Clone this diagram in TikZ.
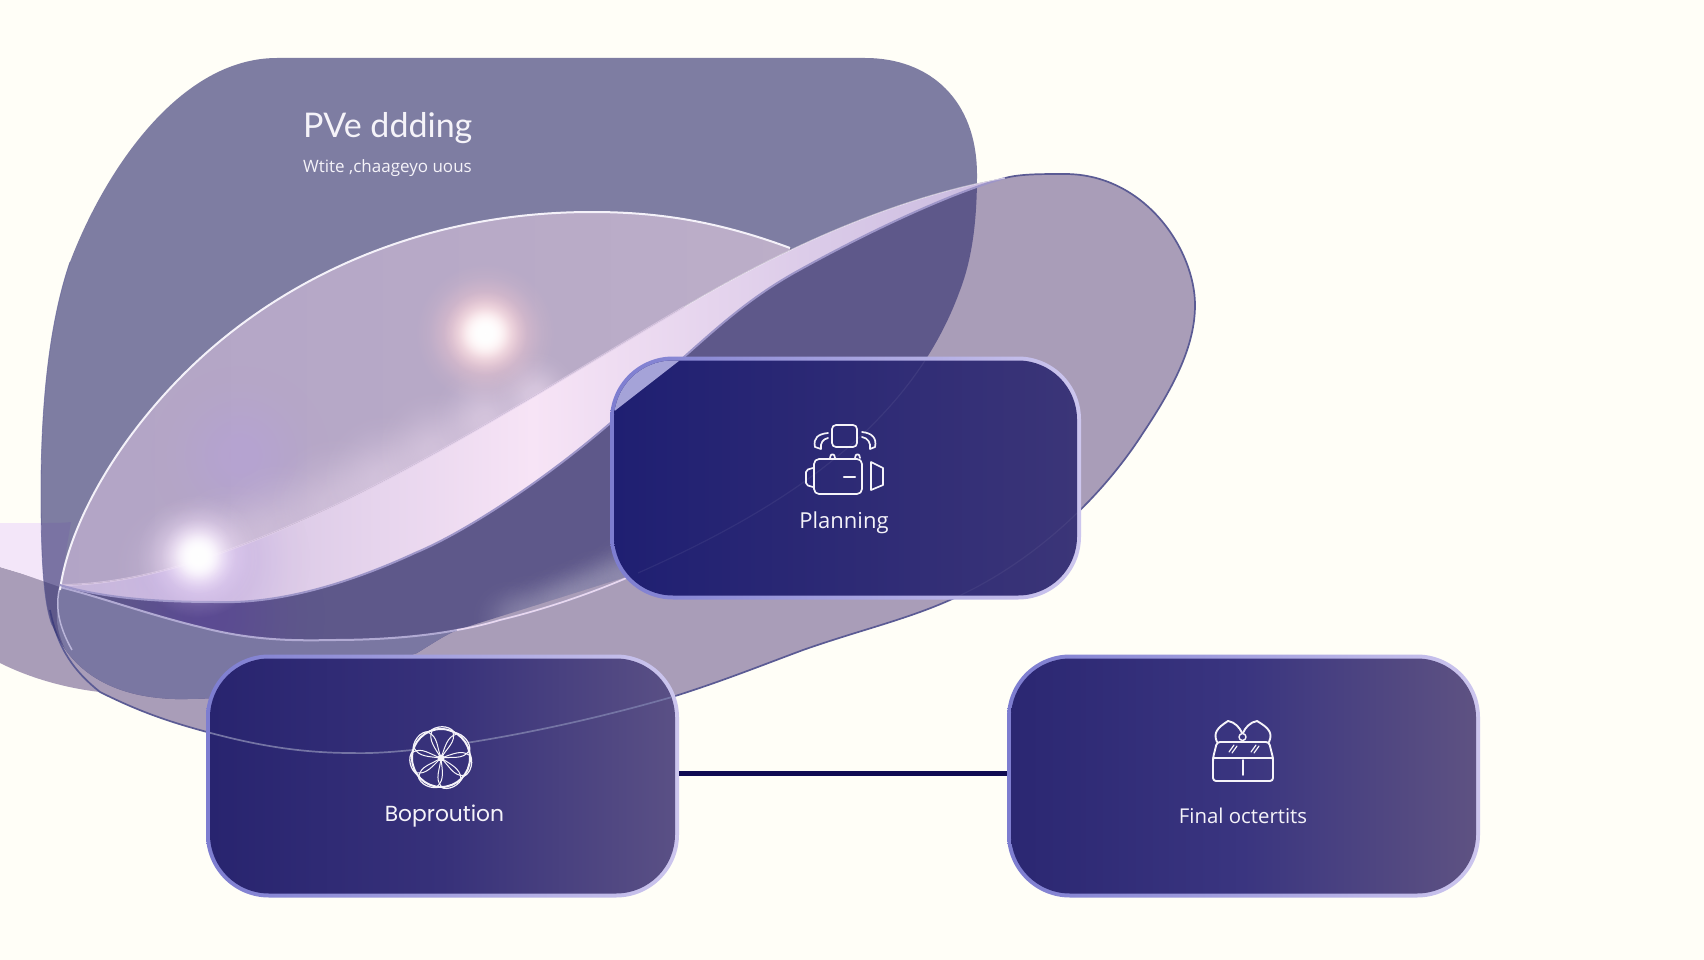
\documentclass[tikz,border=0pt]{standalone}
\usepackage{fontspec}
\setmainfont{Open Sans}
\newfontfamily\popfont{Poppins}
\newfontfamily\latofont{Lato}
\usetikzlibrary{fadings}
\pgfdeclareradialshading{softs}{\pgfpointorigin}{color(0bp)=(white); color(5bp)=(black!10); color(10bp)=(black!38); color(15bp)=(black!68); color(20bp)=(black!90); color(25bp)=(black); color(50bp)=(black)}
\pgfdeclarefading{softglow}{\pgfuseshading{softs}}
\definecolor{bgc}{HTML}{FFFEF7}
\definecolor{greyleaf}{HTML}{A99DB8}
\definecolor{blobc}{RGB}{48,46,111}
\definecolor{edgec}{HTML}{5B5B94}
\definecolor{paleband}{HTML}{F3E6F9}
\definecolor{bandg}{HTML}{7A77A2}
\definecolor{lensl}{HTML}{B2A4C6}
\definecolor{lensr}{HTML}{BCAEC8}
\definecolor{pinkm}{HTML}{F7E4F6}
\definecolor{lilacl}{HTML}{C4B4DA}
\definecolor{lilacr}{HTML}{C8BADF}
\definecolor{lowedge}{HTML}{9D95C8}
\definecolor{textc}{HTML}{F5F3F9}
\definecolor{conn}{HTML}{100B52}
\definecolor{purpledk}{HTML}{5A4596}
\definecolor{lilacglow}{HTML}{B79EE0}
\definecolor{pinkglow}{HTML}{FFCFD3}
\definecolor{violetglow}{HTML}{F3E2FC}
\definecolor{peri}{HTML}{A5A3D8}
\definecolor{bordl}{HTML}{7D7DD0}
\definecolor{bordr}{HTML}{CDC6EE}
\definecolor{plancl}{HTML}{1F1F72}
\definecolor{plancr}{HTML}{3B3578}
\definecolor{boxal}{HTML}{28246F}
\definecolor{boxam}{HTML}{37317A}
\definecolor{boxar}{HTML}{5A5085}
\definecolor{boxcl}{HTML}{2B2772}
\definecolor{boxcm}{HTML}{3A3580}
\definecolor{boxcr}{HTML}{5E5282}
\tikzset{
  cardout/.style={rounded corners=63pt,minimum width=#1,minimum height=243pt,inner sep=0pt},
  cardin/.style={rounded corners=59pt,minimum width=#1,minimum height=235pt,inner sep=0pt},
  icon/.style={draw=textc,line width=1.7pt,line join=round,line cap=round},
  lbl/.style={text=textc,inner sep=0pt},
  glow/.style={path fading=softglow},
}
\def\leafb{.. controls (140,712) and (170,722) .. (207,732) .. controls (255,745) and (300,753) .. (352,753) .. controls (410,755) and (540,735) .. (672,697) .. controls (720,682) and (760,666) .. (803,650) .. controls (860,630) and (905,620) .. (950,600) .. controls (1030,565) and (1100,500) .. (1143,433) .. controls (1175,385) and (1195,345) .. (1195,305) .. controls (1195,250) and (1145,174) .. (1065,174) .. controls (1040,174) and (1020,174) .. (1005,178)}
\def\dlowera{.. controls (960,190) and (880,225) .. (794,273)}
\def\dlowerb{.. controls (750,298) and (720,325) .. (684,357) .. controls (650,388) and (610,425) .. (574,453) .. controls (540,480) and (470,530) .. (415,553) .. controls (350,583) and (280,604) .. (218,602) .. controls (170,602) and (110,600) .. (60,585)}
\def\dupper{.. controls (150,585) and (250,545) .. (336,505) .. controls (440,455) and (560,380) .. (684,307) .. controls (760,262) and (880,200) .. (1005,178)}
\def\lensup{(60,590) .. controls (68,530) and (110,450) .. (178,380) .. controls (260,295) and (400,212) .. (592,212) .. controls (660,212) and (720,222) .. (790,248)}
\def\fleft{(60,587) .. controls (100,597) and (150,615) .. (200,627) .. controls (250,640) and (290,641) .. (333,640) .. controls (375,640) and (420,637) .. (457,630)}
\def\fright{.. controls (475,627) and (490,623) .. (500,620) .. controls (550,608) and (600,590) .. (638,573)}
\def\blobpath{(277,58) .. controls (180,58) and (105,170) .. (70,262) .. controls (50,320) and (41,400) .. (41,490) .. controls (41,540) and (42,600) .. (52,625) .. controls (70,670) and (110,697) .. (175,699) .. controls (260,700) and (340,680) .. (417,653) .. controls (430,645) and (445,635) .. (457,630) -- (638,573) .. controls (780,510) and (909,428) .. (959,293) .. controls (970,265) and (977,230) .. (977,175) .. controls (977,100) and (930,58) .. (865,58) -- cycle}
\begin{document}
\begin{tikzpicture}[x=1pt,y=-1pt]
\useasboundingbox (0,0) rectangle (1704,960);
\fill[bgc] (0,0) rectangle (1704,960);
% grey leaf
\fill[greyleaf] (0,567) -- (0,663) .. controls (30,678) and (65,688) .. (100,692) \leafb \dlowera \dlowerb -- (20,573) -- cycle;
\draw[edgec,line width=1.7pt] (50,610) .. controls (58,650) and (75,672) .. (100,692) \leafb;
% pale band on the left
\fill[paleband] (0,523) -- (42,523) .. controls (55,523) and (62,523) .. (71,522) -- (60,587) -- (20,573) -- (0,567) -- cycle;
% blob
\fill[blobc,fill opacity=.62] \blobpath;
\draw[edgec,line width=.8pt,opacity=.6] (70,262) .. controls (50,320) and (41,400) .. (41,490) .. controls (41,540) and (42,600) .. (52,625);
\begin{scope}
\clip \blobpath;
\fill[purpledk,glow,opacity=.7] (205,615) circle (120);
\foreach \p in {(640,570),(625,572),(610,582),(595,587),(580,595),(565,600),(550,606),(530,612),(510,618)}{
  \fill[white,glow,opacity=.14] \p circle (40);
}
\fill[bandg] \fleft -- (400,700) -- (100,700) -- (100,692) .. controls (75,672) and (55,640) .. (57,613) -- cycle;
\end{scope}
\draw[line width=1.5pt,color=lowedge!70!white] (60,587) .. controls (55,605) and (58,625) .. (72,650);
\draw[line width=2pt,color=lowedge!80!white] \fleft \fright;
\draw[line width=1.6pt,color=pinkm,opacity=.8] (457,630) \fright;
% lens
\begin{scope}
\clip \lensup -- (794,273) \dlowerb -- cycle;
\fill[left color=lensl,right color=lensr] (40,190) rectangle (800,620);
\fill[lilacglow,glow,opacity=.4] (240,455) circle (90);
\foreach \p/\r/\o in {(180,565)/70/.25,(230,550)/70/.3,(280,530)/70/.3,(336,505)/70/.35,(385,478)/65/.4,(435,450)/60/.4,(485,420)/55/.45,(534,395)/45/.5}{
  \fill[pinkm,glow,opacity=\o] \p circle (\r);
}
\end{scope}
% pale sweep band
\fill[left color=lilacl,right color=lilacr,middle color=pinkm] (60,585) \dupper \dlowera \dlowerb -- cycle;
\begin{scope}
\clip (60,585) \dupper \dlowera \dlowerb -- cycle;
\fill[lilacglow,glow,opacity=.5] (200,560) circle (110);
\end{scope}
\draw[line width=2pt,color=lilacl!45!pinkm,opacity=.7] (60,585) .. controls (150,585) and (250,545) .. (336,505) .. controls (440,455) and (560,380) .. (684,307);
\draw[line width=2pt,color=white!80!lilacr] \lensup;
\draw[line width=2pt,color=lowedge] (1005,178) \dlowera \dlowerb;
\draw[line width=1pt,color=white!80!lilacr,opacity=.6] (684,307) .. controls (760,262) and (880,200) .. (1005,178);
% glows
\fill[pinkglow,glow] (485,333) circle (70);
\fill[white,glow] (485,333) circle (42);
\fill[white,glow] (485,333) circle (28);
\fill[violetglow,glow] (198,556) circle (62);
\fill[white,glow] (198,556) circle (38);
\fill[white,glow] (198,556) circle (26);
% heading
\node[lbl,anchor=west,font=\latofont\fontsize{34}{40}\selectfont] (title) at (303,128) {PVe ddding};
\node[lbl,anchor=west,font=\fontsize{17}{20}\selectfont] (subtitle) at (303,168) {Wtite ,chaageyo uous};
% planning card
\node[cardout=471pt,left color=bordl,right color=bordr] (planout) at (845.5,478) {};
\node[cardin=463pt,left color=plancl,right color=plancr] (plan) at (845.5,478) {};
\begin{scope}
\clip[rounded corners=59pt] (614,360.5) rectangle (1077,595.5);
\fill[peri] (605,350) -- (605,418) -- (612,413) -- (684,357) -- (695,350) -- cycle;
\draw[white,opacity=.06,line width=1.2pt] (638,573) .. controls (780,510) and (909,428) .. (959,293);
\draw[white,opacity=.05,line width=1.2pt] (950,600) .. controls (1030,565) and (1100,500) .. (1143,433);
\end{scope}
% planning icon
\draw[icon,rounded corners=4pt] (832,425) rectangle (857,447);
\draw[icon] (828,433) .. controls (818,434) and (813,438) .. (815,447) -- (821,449) .. controls (820,443) and (823,439) .. (828,438);
\draw[icon] (862,432) .. controls (872,433) and (877,438) .. (875,447) -- (870,449) .. controls (871,443) and (868,438) .. (862,437);
\draw[icon,rounded corners=5pt] (814,459) rectangle (862,494);
\draw[icon] (830,458) .. controls (830,453) and (835,453) .. (835,458);
\draw[icon] (855,458) .. controls (855,453) and (860,453) .. (860,458);
\draw[icon,line width=2.2pt] (844,477) -- (855,477);
\draw[icon,rounded corners=2pt] (813,468) -- (806,470) -- (806,485) -- (813,487);
\draw[icon] (871,462) -- (883,468) -- (883,485) -- (871,490) -- cycle;
\node[lbl,font=\fontsize{22}{26}\selectfont] (planlabel) at (844,523) {Planning};
% boproution card
\node[cardout=473pt,left color=bordl,right color=bordr] (boxaout) at (442.5,776) {};
\node[cardin=465pt,left color=boxal,right color=boxar,middle color=boxam] (boxa) at (442.5,776) {};
\begin{scope}
\clip[rounded corners=59pt] (210,658.5) rectangle (675,893.5);
\draw[edgec!85!white,line width=1.7pt] (100,692) \leafb;
\end{scope}
% boproution icon
\fill[boxam] (441,758) circle (29);
\foreach \a in {0,51.43,102.86,154.29,205.71,257.14,308.57}{
  \begin{scope}[shift={(441,758)},rotate=\a]
    \draw[draw=textc,line width=1pt] (0,0) .. controls (6,-10) and (15,-16) .. (12,-26);
    \draw[draw=textc,line width=1pt] (0,0) .. controls (-6,-10) and (-13,-18) .. (-9,-27);
    \draw[draw=textc,line width=1.2pt] (-12,-26) .. controls (-5,-33) and (8,-33) .. (13,-26);
  \end{scope}
}
\draw[icon,line width=2pt] (441,758) circle (29);
\fill[textc] (441,758) circle (3.5);
\node[lbl,font=\popfont\fontsize{21.8}{26}\selectfont] (boxalabel) at (444.5,816) {Boproution};
% final card
\node[cardout=473pt,left color=bordl,right color=bordr] (boxcout) at (1243.5,776) {};
\node[cardin=465pt,left color=boxcl,right color=boxcr,middle color=boxcm] (boxc) at (1243.5,776) {};
% final icon
\draw[icon,line width=1.9pt,rounded corners=3pt] (1217,742) -- (1213,758) -- (1213,781) -- (1273,781) -- (1273,758) -- (1269,742) -- cycle;
\draw[icon,line width=1.9pt] (1213,758) -- (1273,758);
\draw[icon,line width=1.5pt] (1243,760) -- (1243,775);
\draw[icon,line width=1.9pt] (1217,742) .. controls (1213,733) and (1217,728) .. (1228,721) .. controls (1235,722) and (1240,728) .. (1242,733);
\draw[icon,line width=1.9pt] (1269,742) .. controls (1273,733) and (1269,728) .. (1257,721) .. controls (1250,722) and (1245,728) .. (1243,733);
\draw[icon,line width=1.4pt] (1242.5,737) circle (3.5);
\draw[icon,line width=1.2pt] (1229,752) -- (1234,745) (1232,753) -- (1237,746);
\draw[icon,line width=1.2pt] (1251,752) -- (1256,745) (1254,753) -- (1259,746);
\node[lbl,font=\fontsize{20.4}{24}\selectfont] (boxclabel) at (1243,816) {Final octertits};
% connector
\draw[conn,line width=5pt] ([yshift=3pt]boxaout.east) -- ([yshift=3pt]boxcout.west);
\end{tikzpicture}
\end{document}
